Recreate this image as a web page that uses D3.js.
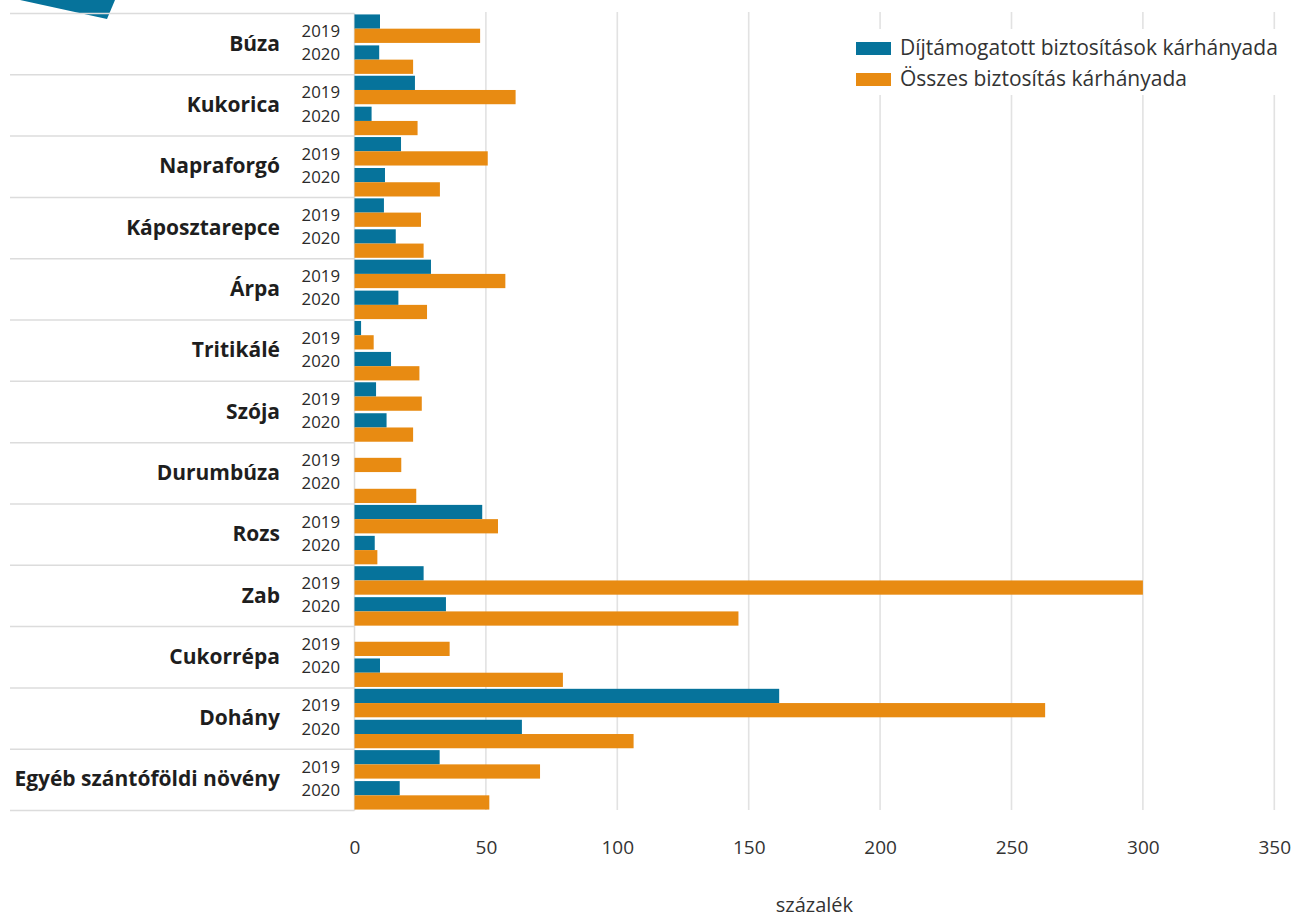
<!DOCTYPE html>
<html>
<head>
<meta charset="utf-8">
<script src="https://cdn.jsdelivr.net/npm/d3@7"></script>
<style>
  html, body { margin: 0; padding: 0; background: #fff; }
  svg { display: block; }
  text { font-family: "Open Sans", "Noto Sans", sans-serif; }
</style>
</head>
<body>
<svg id="chart" width="1306" height="918"></svg>
<script>
const categories = ["Búza","Kukorica","Napraforgó","Káposztarepce","Árpa","Tritikálé","Szója","Durumbúza","Rozs","Zab","Cukorrépa","Dohány","Egyéb szántóföldi növény"];
const years = ["2019","2020"];
const seriesNames = ["Díjtámogatott biztosítások kárhányada","Összes biztosítás kárhányada"];
const supported2019 = [9.7, 23.0, 17.7, 11.2, 29.1, 2.5, 8.2, 0, 48.6, 26.3, 0, 161.6, 32.4];
const supported2020 = [9.4, 6.5, 11.6, 15.7, 16.7, 13.9, 12.2, 0, 7.7, 34.8, 9.7, 63.7, 17.2];
const total2019 = [47.8, 61.3, 50.7, 25.3, 57.4, 7.3, 25.6, 17.8, 54.6, 300, 36.2, 262.8, 70.6];
const total2020 = [22.3, 24.0, 32.5, 26.3, 27.6, 24.7, 22.3, 23.5, 8.7, 146.1, 79.3, 106.2, 51.3];
const xTicks = [0, 50, 100, 150, 200, 250, 300, 350];
const axisTitle = "százalék";

const colors = ["#06739b", "#e88b12"];
const svg = d3.select("#chart");

const x = d3.scaleLinear().domain([0, 350]).range([354.5, 1274.3]);
const y = d3.scaleBand().domain(categories).range([13.5, 810.5]).padding(0);
const yYear = d3.scaleBand().domain(years).range([0, y.bandwidth()]).paddingInner(0.08).paddingOuter(0.03);
const ySeries = d3.scaleBand().domain([0, 1]).range([0, yYear.bandwidth()]).padding(0);

const rows = [];
categories.forEach((c, i) => {
  rows.push({cat: c, year: "2019", s: 0, v: supported2019[i]});
  rows.push({cat: c, year: "2019", s: 1, v: total2019[i]});
  rows.push({cat: c, year: "2020", s: 0, v: supported2020[i]});
  rows.push({cat: c, year: "2020", s: 1, v: total2020[i]});
});

// decorative corner shape
svg.append("path").attr("d", "M20,0 L115,0 L107,19 Z").attr("fill", colors[0]);

// gridlines
svg.append("g").selectAll("line").data(xTicks.slice(1)).join("line")
  .attr("x1", d => x(d)).attr("x2", d => x(d))
  .attr("y1", 12).attr("y2", 810)
  .attr("stroke", "#e2e2e2").attr("stroke-width", 1.6);

// separators
const seps = categories.map(c => y(c)).concat([y.range()[1]]);
svg.append("g").selectAll("line").data(seps).join("line")
  .attr("x1", 10).attr("x2", x(0))
  .attr("y1", d => d).attr("y2", d => d)
  .attr("stroke", "#dcdcdc").attr("stroke-width", 1.5);

// vertical axis line
svg.append("line").attr("x1", x(0)).attr("x2", x(0))
  .attr("y1", y.range()[0]).attr("y2", y.range()[1])
  .attr("stroke", "#dcdcdc").attr("stroke-width", 1.5);

// bars
svg.append("g").selectAll("rect").data(rows.filter(d => d.v > 0)).join("rect")
  .attr("x", x(0))
  .attr("y", d => y(d.cat) + yYear(d.year) + ySeries(d.s))
  .attr("width", d => x(d.v) - x(0))
  .attr("height", ySeries.bandwidth())
  .attr("fill", d => colors[d.s]);

// category labels
svg.append("g").selectAll("text").data(categories).join("text")
  .attr("x", 280)
  .attr("y", d => y(d) + y.bandwidth() / 2 + 1)
  .attr("text-anchor", "end")
  .attr("dominant-baseline", "middle")
  .attr("font-size", 21).attr("font-weight", 700).attr("fill", "#1e1e1e")
  .text(d => d);

// year labels
const yearRows = [];
categories.forEach(c => years.forEach((yr, j) => yearRows.push({cat: c, yr, j})));
svg.append("g").selectAll("text").data(yearRows).join("text")
  .attr("x", 340)
  .attr("y", d => y(d.cat) + y.bandwidth() / 2 + (d.j === 0 ? -11.6 : 11.6))
  .attr("text-anchor", "end")
  .attr("dominant-baseline", "middle")
  .attr("font-size", 16.8).attr("fill", "#2a2a2a")
  .text(d => d.yr);

// x axis
const axis = d3.axisBottom(x).tickValues(xTicks).tickSize(0).tickPadding(0).tickFormat(d3.format("d"));
const gAxis = svg.append("g").attr("transform", "translate(0,840)").call(axis);
gAxis.select(".domain").remove();
gAxis.selectAll("text").attr("font-size", 19).attr("fill", "#333")
  .style("font-family", '"Open Sans", "Noto Sans", sans-serif');

svg.append("text").attr("x", (x(0) + x(350)) / 2).attr("y", 912)
  .attr("text-anchor", "middle").attr("font-size", 20).attr("fill", "#333")
  .text(axisTitle);

// legend
const lg = svg.append("g");
lg.append("rect").attr("x", 846).attr("y", 29).attr("width", 458).attr("height", 66).attr("fill", "#fff");
seriesNames.forEach((n, i) => {
  lg.append("rect").attr("x", 856).attr("y", 42 + i * 31).attr("width", 35).attr("height", 13).attr("fill", colors[i]);
  lg.append("text").attr("x", 900).attr("y", 49 + i * 31).attr("dominant-baseline", "middle")
    .attr("font-size", 21).attr("fill", "#333").text(n);
});
</script>
</body>
</html>
